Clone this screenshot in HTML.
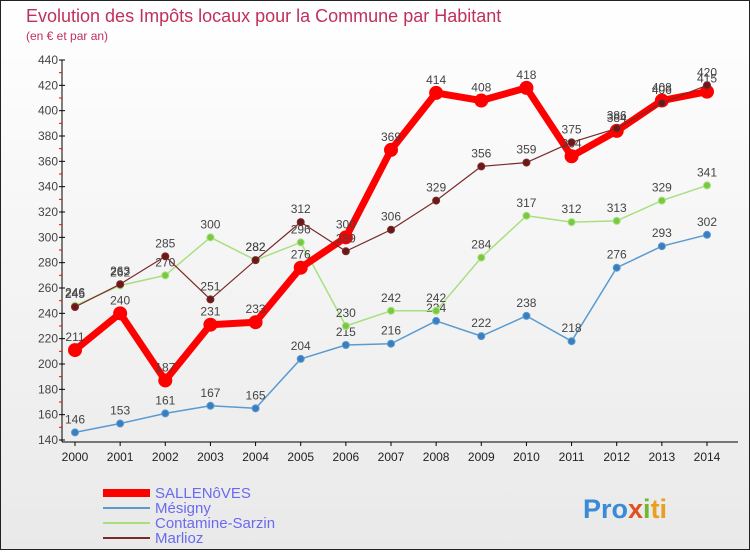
<!DOCTYPE html>
<html><head><meta charset="utf-8"><style>
html,body{margin:0;padding:0}
body{width:750px;height:550px;overflow:hidden;font-family:"Liberation Sans",sans-serif}
</style></head><body>
<svg id="c" width="750" height="550" xmlns="http://www.w3.org/2000/svg">
<defs><linearGradient id="bg" x1="0" y1="0" x2="0" y2="1"><stop offset="0" stop-color="#ffffff"/><stop offset="1" stop-color="#e9e9e9"/></linearGradient></defs>
<rect x="0.5" y="0.5" width="749" height="549" fill="url(#bg)" stroke="#222"/>
<text x="26" y="22" font-size="18" fill="#c0305a">Evolution des Impôts locaux pour la Commune par Habitant</text>
<text x="26" y="40" font-size="12" fill="#c0305a">(en € et par an)</text>
<g id="axes"></g><g id="series"></g><g id="legend"></g>
<text x="583" y="518" font-size="27" font-weight="bold" fill="#3a8ad8">Pro<tspan fill="#e05020">x</tspan><tspan fill="#70b830">i</tspan><tspan fill="#e8a020">ti</tspan></text>
</svg>
<script>
const years=[2000,2001,2002,2003,2004,2005,2006,2007,2008,2009,2010,2011,2012,2013,2014];
const yTicks=[140,160,180,200,220,240,260,280,300,320,340,360,380,400,420,440];
const sallenoves=[211,240,187,231,233,276,300,369,414,408,418,364,384,408,415];
const mesigny=[146,153,161,167,165,204,215,216,234,222,238,218,276,293,302];
const contamine=[246,262,270,300,282,296,230,242,242,284,317,312,313,329,341];
const marlioz=[245,263,285,251,282,312,289,306,329,356,359,375,386,406,420];
const names=["SALLENôVES","Mésigny","Contamine-Sarzin","Marlioz"];
const NS="http://www.w3.org/2000/svg";
const X0=62,X1=738,Y0=440;
function xs(i){return 75+i*(707-75)/(years.length-1);}
function ys(v){return Y0-(v-140)*(380/300);}
function mk(t,a,p){const e=document.createElementNS(NS,t);for(const k in a)e.setAttribute(k,a[k]);p.appendChild(e);return e;}
const ax=document.getElementById('axes');
let l=mk('line',{x1:X0,y1:ys(440),x2:X0,y2:Y0+2,stroke:'#000'},ax);


l=mk('line',{x1:X0,y1:Y0+2,x2:X1,y2:Y0+2,stroke:'#000'},ax);


yTicks.forEach((v,i)=>{
  mk('line',{x1:X0-3,y1:ys(v),x2:X0+3,y2:ys(v),stroke:'#000'},ax);
  if(i<yTicks.length-1)mk('line',{x1:X0-3,y1:ys(v+10),x2:X0,y2:ys(v+10),stroke:'#f00'},ax);
  const t=mk('text',{x:X0-4,y:ys(v)+4,'font-size':12,'text-anchor':'end',fill:'#444'},ax);
  
  
  t.textContent=v;
});
years.forEach((y,i)=>{
  mk('line',{x1:xs(i),y1:Y0+2,x2:xs(i),y2:Y0+6,stroke:'#000'},ax);
  const t=mk('text',{x:xs(i),y:Y0+21,'font-size':12,'text-anchor':'middle',fill:'#222'},ax);
  
  
  t.textContent=y;
});
const sg=document.getElementById('series');
function draw(vals,color,w,r,fill,name){
  const g=mk('g',{},sg);
  
  
  mk('polyline',{points:vals.map((v,i)=>xs(i)+','+ys(v)).join(' '),fill:'none',stroke:color,'stroke-width':w,'stroke-linejoin':'round'},g);
  vals.forEach((v,i)=>{
    const c=mk('circle',{cx:xs(i),cy:ys(v),r:r,fill:fill,stroke:color,'stroke-width':1},g);
    
    
    const t=mk('text',{x:xs(i),y:ys(v)-9,'font-size':12,'text-anchor':'middle',fill:'#444'},g);
    
    
    t.textContent=v;
  });
}
draw(mesigny,'#5a9ad0',1.5,3.5,'#3a7ec0','mesigny-series');
draw(contamine,'#a8e080',1.5,3.5,'#78c840','contamine-series');
draw(sallenoves,'#ff0000',7,6.5,'#ff0000','sallenoves-series');
draw(marlioz,'#7a2a2a',1.2,3.5,'#6a1818','marlioz-series');
const lg=document.getElementById('legend');
const lc=['#ff0000','#5a9ad0','#a8e080','#7a2a2a'],lw=[8,2,2,2];
names.forEach((n,i)=>{
  const y=493+i*15;
  const g=mk('g',{},lg);
  
  
  mk('line',{x1:103,y1:y,x2:150,y2:y,stroke:lc[i],'stroke-width':lw[i]},g);
  const t=mk('text',{x:155,y:y+5,'font-size':15,fill:'#6a6af0'},g);
  t.textContent=n;
});
</script>
</body></html>
